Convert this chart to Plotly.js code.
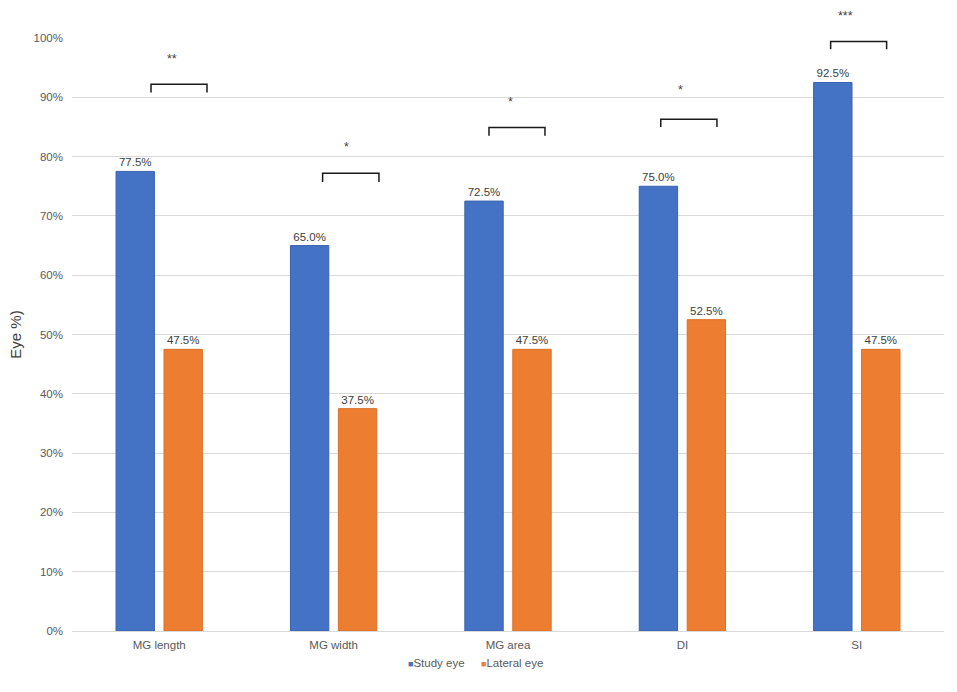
<!DOCTYPE html>
<html>
<head>
<meta charset="utf-8">
<script src="https://cdn.plot.ly/plotly-3.0.1.min.js"></script>
<style>
  html, body { margin: 0; padding: 0; background: #fff; }
  #chart { width: 957px; height: 692px; }
</style>
</head>
<body>
<div id="chart"></div>
<script>
// Categories and series (percent of eyes)
const categories = ["MG length", "MG width", "MG area", "DI", "SI"];
const studyEye = [77.5, 65.0, 72.5, 75.0, 92.5];
const lateralEye = [47.5, 37.5, 47.5, 52.5, 47.5];
const seriesNames = ["Study eye", "Lateral eye"];

// Significance brackets (category index units, percent)
const sigLabels = ["**", "*", "*", "*", "***"];
const bracketLeft = [-0.047, 0.937, 1.891, 2.876, 3.850];
const bracketRight = [0.274, 1.260, 2.212, 3.198, 4.171];
const bracketTop = [92.2, 77.2, 84.9, 86.3, 99.4];
const bracketFoot = [90.8, 75.7, 83.5, 85.0, 98.1];
const starX = [0.073, 1.075, 2.017, 2.990, 3.935];
const starY = [98.0, 83.2, 90.8, 92.7, 105.2];

const yTicks = [0, 10, 20, 30, 40, 50, 60, 70, 80, 90, 100];

const FONT = "Arial, 'Liberation Sans', sans-serif";
const TEXT = "#404040";
const TICK = "#595959";
const GRID = "#d9d9d9";
const BLUE = "#4472C4";
const ORANGE = "#ED7D31";

const traces = [
  {
    type: "bar", name: seriesNames[0], x: categories, y: studyEye,
    marker: { color: BLUE, line: { color: "#3a62ad", width: 1 } },
    texttemplate: "%{y:.1f}%", textposition: "outside", cliponaxis: false,
    textfont: { color: TEXT, size: 11.5, family: FONT },
    hoverinfo: "skip", showlegend: false,
  },
  {
    type: "bar", name: seriesNames[1], x: categories, y: lateralEye,
    marker: { color: ORANGE, line: { color: "#d96f28", width: 1 } },
    texttemplate: "%{y:.1f}%", textposition: "outside", cliponaxis: false,
    textfont: { color: TEXT, size: 11.5, family: FONT },
    hoverinfo: "skip", showlegend: false,
  },
];

const shapes = [];
const annotations = [];
for (let i = 0; i < categories.length; i++) {
  shapes.push({
    type: "path", xref: "x", yref: "y",
    path: `M ${bracketLeft[i]},${bracketFoot[i]} L ${bracketLeft[i]},${bracketTop[i]} ` +
          `L ${bracketRight[i]},${bracketTop[i]} L ${bracketRight[i]},${bracketFoot[i]}`,
    line: { color: "#1a1a1a", width: 1.5 },
  });
  annotations.push({
    x: starX[i], y: starY[i] / 100, xref: "x", yref: "paper",
    text: sigLabels[i], showarrow: false,
    font: { color: TEXT, size: 12.5, family: FONT },
  });
}

// Compact legend below the plot, Excel style
const legendColors = [BLUE, ORANGE];
const legendX = [0.383, 0.467];
seriesNames.forEach((name, i) => {
  annotations.push({
    x: legendX[i], y: -0.054, xref: "paper", yref: "paper",
    xanchor: "left", yanchor: "middle", showarrow: false,
    text: `<span style="color:${legendColors[i]};font-size:9px">■</span>${name}`,
    font: { color: TICK, size: 11.5, family: FONT },
  });
});

const layout = {
  width: 957, height: 692,
  paper_bgcolor: "#fff", plot_bgcolor: "#fff",
  font: { family: FONT, color: TICK, size: 11 },
  margin: { l: 72, r: 13, t: 38, b: 61, autoexpand: false },
  barmode: "group", bargap: 0.45, bargroupgap: 0.2,
  showlegend: false,
  xaxis: {
    type: "category", showgrid: false, zeroline: false,
    showline: true, linecolor: GRID, linewidth: 1,
    ticks: "", ticklabelstandoff: 3, tickfont: { size: 11.5, color: TICK },
  },
  yaxis: {
    range: [0, 100], tickvals: yTicks, ticktext: yTicks.map(v => v + "%"),
    showgrid: true, gridcolor: GRID, gridwidth: 1, zeroline: false,
    showline: false, ticks: "", ticklabelstandoff: 8,
    tickfont: { size: 11.5, color: TICK },
    title: { text: "Eye %)", font: { size: 15, color: TEXT }, standoff: 8 },
  },
  shapes, annotations,
};

Plotly.newPlot("chart", traces, layout, { displayModeBar: false, staticPlot: true });
</script>
</body>
</html>
